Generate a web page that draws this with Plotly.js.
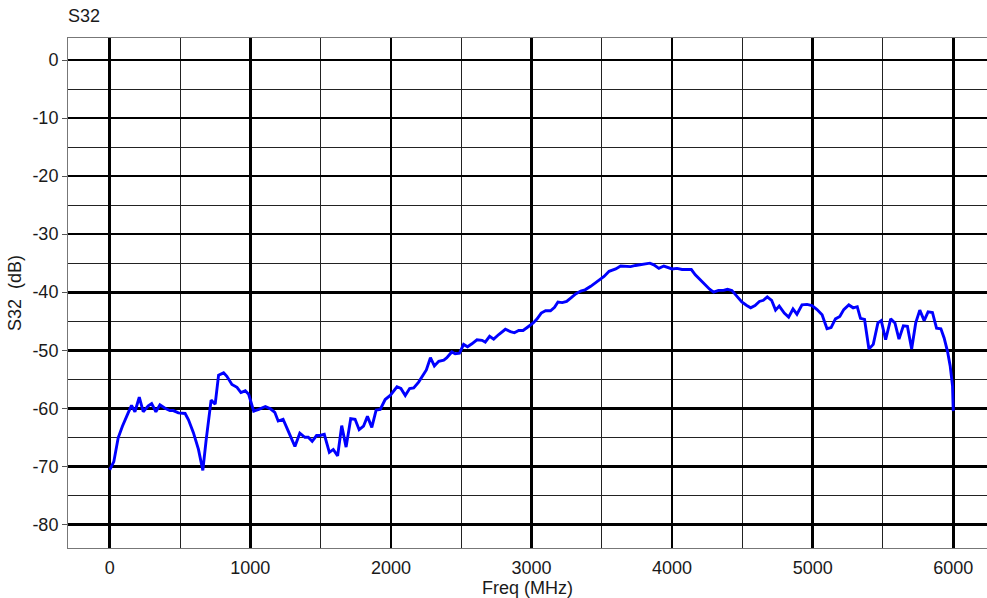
<!DOCTYPE html>
<html>
<head>
<meta charset="utf-8">
<script src="https://cdn.plot.ly/plotly-3.0.1.min.js"></script>
<style>html,body{margin:0;padding:0;background:#fff;}#chart{width:987px;height:598px;}</style>
</head>
<body>
<div id="chart"></div>
<script>
const freqMHz = [
 0,29,60,90,131,155,179,210,238,274,298,328,357,393,428,452,488,536,560,595,
 631,662,686,702,721,750,774,810,833,869,905,933,964,988,1024,1060,1107,1143,
 1174,1198,1233,1269,1317,1352,1388,1412,1440,1471,1495,1526,1562,1590,1621,1650,1681,1714,1745,1774,
 1805,1833,1864,1895,1924,1959,1995,2043,2071,2102,2133,2162,2197,2228,2252,2281,2309,2340,2376,
 2398,2433,2457,2488,2517,2545,2576,2612,2648,2671,2702,2731,2767,2814,2850,2878,2909,2940,2974,3012,
 3040,3069,3100,3135,3164,3188,3219,3250,3285,3314,3350,3381,3421,3457,3488,3516,3552,
 3599,3634,3670,3705,3740,3776,3811,3842,3870,3906,3941,3969,4000,4035,4071,4106,4137,4165,4200,4236,
 4267,4295,4330,4366,4394,4425,4460,4496,4531,4559,4590,4621,4649,4677,4708,4736,4762,
 4798,4829,4860,4888,4924,4960,4995,5031,5067,5102,5131,5162,5193,5221,5257,5288,5317,5340,5369,5400,
 5431,5464,5488,5519,5555,5585,5614,5645,5674,5704,5733,5762,5793,5821,5852,5881,5912,5935,5959,5978,
 5995,6000
];
const s32dB = [
 -70.6,-69.2,-65.1,-63.1,-60.8,-59.5,-60.6,-58.1,-60.6,-59.6,-59.2,-60.6,-59.4,-60,-60.4,-60.4,-60.8,-60.9,-62,-64.2,
 -67.1,-70.7,-65.4,-62,-58.6,-59.3,-54.3,-53.9,-54.5,-55.9,-56.4,-57.3,-57,-57.6,-60.5,-60.2,-59.7,-60.1,
 -60.7,-62.2,-61.9,-63.9,-66.6,-64.3,-65,-65,-65.7,-64.7,-64.7,-64.5,-67.6,-67.1,-68.2,-63,-66.7,-61.8,-61.9,-63.7,
 -63.1,-61.4,-63.3,-60.3,-60.2,-58.5,-57.8,-56.3,-56.6,-57.8,-56.6,-56.5,-55.5,-54.3,-53.4,-51.3,-52.7,-51.9,-51.7,
 -51.3,-50.3,-50.6,-50.5,-49,-49.4,-48.9,-48.2,-48.3,-48.6,-47.6,-48.1,-47.3,-46.4,-46.8,-47,-46.6,-46.6,-46,-45.3,
 -44.6,-43.6,-43.2,-43.2,-42.6,-41.7,-41.8,-41.6,-40.9,-40.3,-39.8,-39.6,-39,-38.4,-37.9,-37.3,-36.4,
 -36,-35.5,-35.6,-35.6,-35.4,-35.3,-35.2,-35,-35.3,-35.9,-35.5,-35.7,-36,-35.9,-36.1,-36.1,-36.1,-37,-37.9,-38.7,
 -39.5,-40,-39.7,-39.7,-39.5,-39.7,-40.7,-41.7,-42.3,-42.7,-42.3,-41.6,-41.4,-40.8,-41.4,-43.1,-42.4,
 -43.6,-44.3,-42.9,-43.8,-42.2,-42.1,-42.3,-43,-43.9,-46.3,-46.1,-44.6,-44.2,-43,-42.2,-42.7,-42.5,-44.5,-44.7,-49.8,
 -49,-45.3,-44.9,-48.2,-44.6,-45.3,-48.1,-45.8,-45.9,-49.8,-45.3,-43.1,-44.9,-43.4,-43.5,-46.2,-46.3,-47.9,-50.2,-52.7,
 -56.2,-60.5
];
const xTicks = [0,1000,2000,3000,4000,5000,6000];
const yTicks = [0,-10,-20,-30,-40,-50,-60,-70,-80];

const FONT = 'Liberation Sans, Arial, sans-serif';
const FS = 18;
const trace = {
  x: freqMHz, y: s32dB, type: 'scatter', mode: 'lines',
  line: {color: '#0000ff', width: 2.9}, hoverinfo: 'skip'
};
const layout = {
  width: 987, height: 598,
  margin: {l: 68, r: 0, t: 38, b: 50},
  paper_bgcolor: '#ffffff', plot_bgcolor: '#ffffff',
  showlegend: false,
  font: {family: FONT, size: FS, color: '#1a1a1a'},
  title: {text: 'S32', x: 68/987, xref: 'container', xanchor: 'left', y: 1 - 9/598, yref: 'container', yanchor: 'top', font: {family: FONT, size: FS, color: '#1a1a1a'}},
  xaxis: {
    range: [-297, 6240], tickvals: xTicks, ticktext: xTicks.map(String),
    ticks: '', showgrid: true, gridcolor: '#000000', gridwidth: 2.7,
    minor: {dtick: 500, showgrid: true, gridcolor: '#222222', gridwidth: 1},
    zeroline: false, showline: true, linecolor: '#777777', linewidth: 1, mirror: true,
    ticklabelstandoff: 3,
    title: {text: 'Freq (MHz)', font: {family: FONT, size: FS, color: '#1a1a1a'}, standoff: 1},
    tickfont: {family: FONT, size: FS, color: '#1a1a1a'}
  },
  yaxis: {
    range: [-84.08, 3.79], tickvals: yTicks, ticktext: yTicks.map(String),
    ticks: 'outside', ticklen: 5, tickcolor: '#555555', tickwidth: 1,
    showgrid: true, gridcolor: '#000000', gridwidth: 2.7,
    minor: {dtick: 5, showgrid: true, gridcolor: '#222222', gridwidth: 1},
    zeroline: false, showline: true, linecolor: '#777777', linewidth: 1,
    title: {text: 'S32\u00a0 (dB)', font: {family: FONT, size: FS, color: '#1a1a1a'}, standoff: 6},
    tickfont: {family: FONT, size: FS, color: '#1a1a1a'}
  }
};
Plotly.newPlot('chart', [trace], layout, {displayModeBar: false, staticPlot: true});
</script>
</body>
</html>
